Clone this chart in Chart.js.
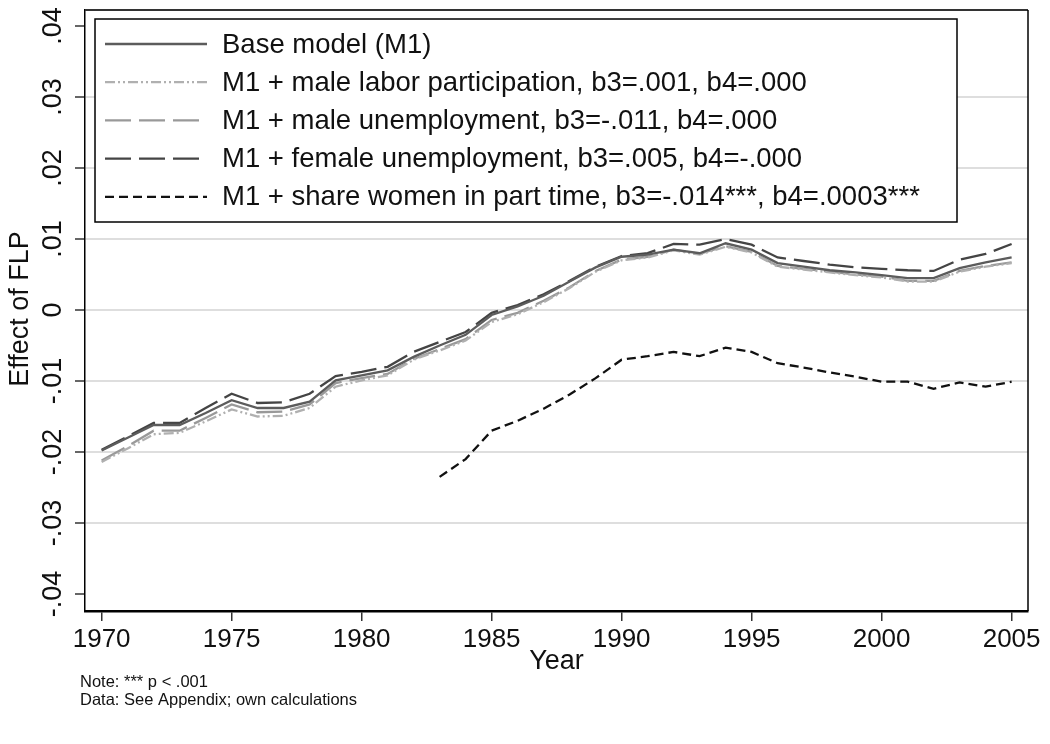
<!DOCTYPE html>
<html>
<head>
<meta charset="utf-8">
<script src="https://cdn.jsdelivr.net/npm/chart.js@4.4.1/dist/chart.umd.min.js"></script>
<style>
  html, body { margin: 0; padding: 0; background: #fff; }
</style>
</head>
<body>
<canvas id="grafico-FLP" width="1050" height="744"></canvas>
<script>
const years = [1970, 1971, 1972, 1973, 1974, 1975, 1976, 1977, 1978, 1979,
  1980, 1981, 1982, 1983, 1984, 1985, 1986, 1987, 1988, 1989,
  1990, 1991, 1992, 1993, 1994, 1995, 1996, 1997, 1998, 1999,
  2000, 2001, 2002, 2003, 2004, 2005];

const baseModel = [-0.0198, -0.0180, -0.0162, -0.0162, -0.0145, -0.0127, -0.0138, -0.0138, -0.0129, -0.0099,
  -0.0092, -0.0085, -0.0066, -0.0050, -0.0035, -0.0007, 0.0005, 0.0020, 0.0040, 0.0060,
  0.0075, 0.0078, 0.0085, 0.0080, 0.0094, 0.0085, 0.0066, 0.0061, 0.0056, 0.0053,
  0.0049, 0.0045, 0.0045, 0.0059, 0.0067, 0.0074];

const maleLabor = [-0.0214, -0.0195, -0.0175, -0.0173, -0.0157, -0.0140, -0.0150, -0.0149, -0.0138, -0.0108,
  -0.0099, -0.0092, -0.0070, -0.0057, -0.0043, -0.0017, -0.0006, 0.0011, 0.0031, 0.0054,
  0.0070, 0.0074, 0.0084, 0.0078, 0.0089, 0.0081, 0.0061, 0.0057, 0.0053, 0.0049,
  0.0046, 0.0040, 0.0040, 0.0054, 0.0061, 0.0066];

const maleUnemp = [-0.0212, -0.0192, -0.0170, -0.0170, -0.0152, -0.0133, -0.0144, -0.0143, -0.0133, -0.0103,
  -0.0096, -0.0090, -0.0069, -0.0055, -0.0041, -0.0014, -0.0004, 0.0013, 0.0032, 0.0055,
  0.0071, 0.0075, 0.0085, 0.0079, 0.0090, 0.0082, 0.0062, 0.0058, 0.0054, 0.0050,
  0.0047, 0.0041, 0.0041, 0.0055, 0.0062, 0.0067];

const femaleUnemp = [-0.0197, -0.0178, -0.0159, -0.0159, -0.0138, -0.0118, -0.0131, -0.0130, -0.0118, -0.0093,
  -0.0087, -0.0080, -0.0059, -0.0045, -0.0031, -0.0004, 0.0007, 0.0022, 0.0041, 0.0061,
  0.0076, 0.0080, 0.0093, 0.0092, 0.0100, 0.0092, 0.0074, 0.0069, 0.0064, 0.0060,
  0.0058, 0.0056, 0.0055, 0.0071, 0.0079, 0.0093];

const partTime = [null, null, null, null, null, null, null, null, null, null,
  null, null, null, -0.0235, -0.0210, -0.0170, -0.0156, -0.0139, -0.0119, -0.0096,
  -0.0070, -0.0065, -0.0059, -0.0065, -0.0053, -0.0059, -0.0075, -0.0081, -0.0088, -0.0094,
  -0.0101, -0.0101, -0.0111, -0.0102, -0.0108, -0.0101];

const xTicks = [1970, 1975, 1980, 1985, 1990, 1995, 2000, 2005];
const yTicks = [-0.04, -0.03, -0.02, -0.01, 0, 0.01, 0.02, 0.03, 0.04];
const yTickLabels = ["-.04", "-.03", "-.02", "-.01", "0", ".01", ".02", ".03", ".04"];

const FUENTE = "'Liberation Sans', Arial, sans-serif";

function puntos(vals) {
  return years.map((yr, i) => ({ x: yr, y: vals[i] }));
}

// textos, marco y leyenda dibujados a mano (estilo Stata)
const extrasFLP = {
  id: "extrasFLP",
  afterDatasetsDraw(chart) {
    const c = chart.ctx;
    const a = chart.chartArea;
    const ys = chart.scales.y;
    c.save();

    // marco superior y derecho
    c.strokeStyle = "#333";
    c.lineWidth = 2;
    c.beginPath();
    c.moveTo(a.left, a.top);
    c.lineTo(a.right, a.top);
    c.stroke();
    c.strokeStyle = "#000";
    c.lineWidth = 1.5;
    c.beginPath();
    c.moveTo(a.right, a.top);
    c.lineTo(a.right, a.bottom);
    c.stroke();

    // leyenda
    c.fillStyle = "#fff";
    c.fillRect(95, 19, 862, 203);
    c.strokeStyle = "#000";
    c.lineWidth = 1.5;
    c.strokeRect(95, 19, 862, 203);
    chart.data.datasets.forEach((ds, i) => {
      const yy = 44 + i * 38.2;
      c.strokeStyle = ds.borderColor;
      c.lineWidth = ds.borderWidth;
      c.setLineDash(ds.borderDash || []);
      c.beginPath();
      c.moveTo(105, yy);
      c.lineTo(207, yy);
      c.stroke();
      c.setLineDash([]);
      c.fillStyle = "#111";
      c.font = "27.5px " + FUENTE;
      c.textAlign = "left";
      c.textBaseline = "middle";
      c.fillText(ds.label, 222, yy + 1);
    });

    // etiquetas del eje y, giradas
    c.fillStyle = "#111";
    c.font = "27px " + FUENTE;
    c.textAlign = "center";
    c.textBaseline = "middle";
    yTicks.forEach((v, i) => {
      c.save();
      c.translate(54, ys.getPixelForValue(v));
      c.rotate(-Math.PI / 2);
      c.fillText(yTickLabels[i], 0, 0);
      c.restore();
    });

    // títulos de ejes
    c.save();
    c.translate(21, 309);
    c.rotate(-Math.PI / 2);
    c.fillText("Effect of FLP", 0, 0);
    c.restore();
    c.fillText("Year", (a.left + a.right) / 2, 662);

    // notas
    c.font = "16.5px " + FUENTE;
    c.textAlign = "left";
    c.fillText("Note: *** p < .001", 80, 682);
    c.fillText("Data: See Appendix; own calculations", 80, 700);
    c.restore();
  }
};

new Chart(document.getElementById("grafico-FLP").getContext("2d"), {
  type: "line",
  data: {
    datasets: [
      {
        label: "Base model (M1)",
        data: puntos(baseModel),
        borderColor: "#5c5c5c",
        borderWidth: 2.3,
        borderDash: []
      },
      {
        label: "M1 + male labor participation, b3=.001, b4=.000",
        data: puntos(maleLabor),
        borderColor: "#b0b0b0",
        borderWidth: 2.3,
        borderDash: [10, 3, 2, 3, 2, 3]
      },
      {
        label: "M1 + male unemployment, b3=-.011, b4=.000",
        data: puntos(maleUnemp),
        borderColor: "#999999",
        borderWidth: 2.3,
        borderDash: [26, 8]
      },
      {
        label: "M1 + female unemployment, b3=.005, b4=-.000",
        data: puntos(femaleUnemp),
        borderColor: "#444444",
        borderWidth: 2.3,
        borderDash: [26, 8]
      },
      {
        label: "M1 + share women in part time, b3=-.014***, b4=.0003***",
        data: puntos(partTime),
        borderColor: "#111111",
        borderWidth: 2.3,
        borderDash: [9, 5]
      }
    ]
  },
  options: {
    responsive: false,
    animation: false,
    layout: { padding: { top: 10, right: 22, left: 0, bottom: 0 } },
    elements: { point: { radius: 0 }, line: { tension: 0 } },
    plugins: {
      legend: { display: false },
      tooltip: { enabled: false }
    },
    scales: {
      x: {
        type: "linear",
        min: 1969.36,
        max: 2005.63,
        afterBuildTicks: s => { s.ticks = xTicks.map(v => ({ value: v })); },
        afterFit: s => { s.height = 133; },
        grid: { drawOnChartArea: false, drawTicks: true, tickLength: 10, tickColor: "#333", lineWidth: 1.5 },
        border: { color: "#000", width: 2.5 },
        ticks: {
          font: { family: FUENTE, size: 26 },
          color: "#111",
          padding: 3,
          maxRotation: 0,
          autoSkip: false,
          callback: v => String(v)
        }
      },
      y: {
        min: -0.042394,
        max: 0.042254,
        afterBuildTicks: s => { s.ticks = yTicks.map(v => ({ value: v })); },
        afterFit: s => { s.width = 85; },
        grid: {
          color: ctx => (ctx.tick && Math.abs(Math.abs(ctx.tick.value) - 0.04) < 1e-9) ? "rgba(0,0,0,0)" : "#dedede",
          lineWidth: 2,
          tickLength: 10,
          tickColor: "#333",
          tickWidth: 1.5
        },
        border: { color: "#000", width: 1.5 },
        ticks: { display: false }
      }
    }
  },
  plugins: [extrasFLP]
});
</script>
</body>
</html>
